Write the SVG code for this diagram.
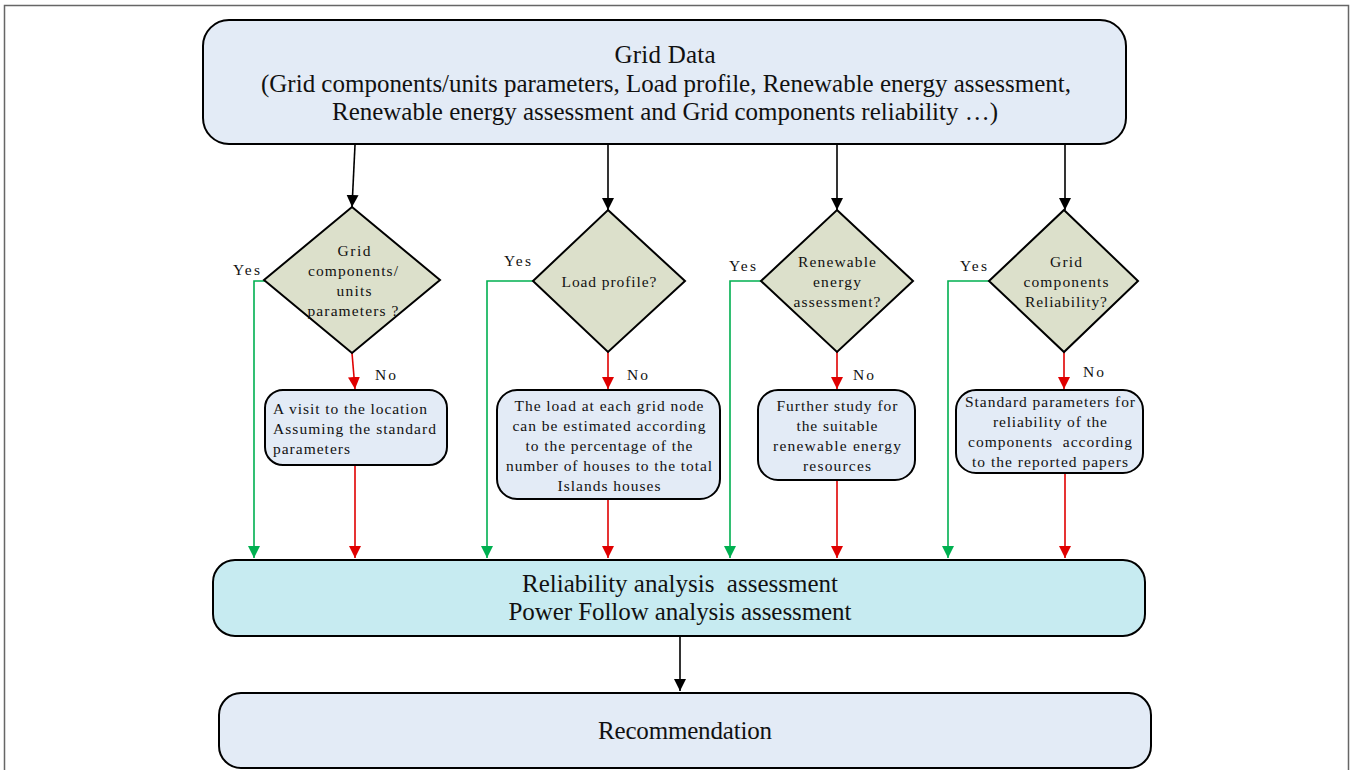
<svg xmlns="http://www.w3.org/2000/svg" width="1352" height="770" viewBox="0 0 1352 770">
<style>
.big{font-family:"Liberation Serif","Times New Roman",serif;font-size:25px;fill:#111;text-anchor:middle;white-space:pre}
.sm{font-family:"Liberation Serif","Times New Roman",serif;font-size:15.5px;fill:#111;text-anchor:middle;white-space:pre}
.lbl{font-family:"Liberation Serif","Times New Roman",serif;font-size:15.5px;fill:#111}
.box{fill:#E3EBF6;stroke:#000;stroke-width:2}
.cyan{fill:#C7EBF1;stroke:#000;stroke-width:2}
.dia{fill:#DCE0CB;stroke:#000;stroke-width:2}
.k{stroke:#000;stroke-width:1.6;fill:none}
.g{stroke:#00B050;stroke-width:1.6;fill:none}
.r{stroke:#E00000;stroke-width:1.6;fill:none}
</style>
<defs>
<marker id="ak" markerUnits="userSpaceOnUse" markerWidth="12" markerHeight="16" refX="12" refY="6" orient="auto" viewBox="0 0 12 12"><path d="M0,0 L12,6 L0,12 z" fill="#000"/></marker>
<marker id="ag" markerUnits="userSpaceOnUse" markerWidth="12" markerHeight="16" refX="12" refY="6" orient="auto" viewBox="0 0 12 12"><path d="M0,0 L12,6 L0,12 z" fill="#00B050"/></marker>
<marker id="ar" markerUnits="userSpaceOnUse" markerWidth="12" markerHeight="16" refX="12" refY="6" orient="auto" viewBox="0 0 12 12"><path d="M0,0 L12,6 L0,12 z" fill="#E00000"/></marker>
</defs>
<rect width="1352" height="770" fill="#fff"/>
<path d="M4.5,770 V5.5 H1348.5 V770" fill="none" stroke="#666" stroke-width="1.5"/>

<g id="connectors">
<path class="k" d="M355,145 L352,207" marker-end="url(#ak)"/>
<path class="k" d="M608,145 L608,210" marker-end="url(#ak)"/>
<path class="k" d="M837,145 L837,210" marker-end="url(#ak)"/>
<path class="k" d="M1065,145 L1065,210" marker-end="url(#ak)"/>
<path class="g" d="M277,281 H254 V558" marker-end="url(#ag)"/>
<path class="g" d="M533,281 H487 V558" marker-end="url(#ag)"/>
<path class="g" d="M761,281 H730 V558" marker-end="url(#ag)"/>
<path class="g" d="M989,281 H948 V558" marker-end="url(#ag)"/>
<path class="r" d="M352,353 L355,389" marker-end="url(#ar)"/>
<path class="r" d="M608,352 L608,389" marker-end="url(#ar)"/>
<path class="r" d="M837,352 L837,389" marker-end="url(#ar)"/>
<path class="r" d="M1064,352 L1064,389" marker-end="url(#ar)"/>
<path class="r" d="M355,465 V558" marker-end="url(#ar)"/>
<path class="r" d="M608,499 V558" marker-end="url(#ar)"/>
<path class="r" d="M837,480 V558" marker-end="url(#ar)"/>
<path class="r" d="M1065,473 V558" marker-end="url(#ar)"/>
<path class="k" d="M680,636 V691" marker-end="url(#ak)"/>
<text class="lbl" x="233" y="275" textLength="27">Yes</text>
<text class="lbl" x="504" y="266" textLength="27">Yes</text>
<text class="lbl" x="729" y="271" textLength="27">Yes</text>
<text class="lbl" x="960" y="271" textLength="27">Yes</text>
<text class="lbl" x="375" y="380" textLength="21">No</text>
<text class="lbl" x="627" y="380" textLength="21">No</text>
<text class="lbl" x="853" y="380" textLength="21">No</text>
<text class="lbl" x="1083" y="377" textLength="21">No</text>
</g>

<g id="grid-data">
<rect class="box" x="203" y="20" width="923" height="124" rx="26"/>
<text class="big" x="665" y="63" textLength="101">Grid Data</text>
<text class="big" x="666" y="92" textLength="810" lengthAdjust="spacingAndGlyphs">(Grid components/units parameters, Load profile, Renewable energy assessment,</text>
<text class="big" x="665" y="120" textLength="666" lengthAdjust="spacingAndGlyphs">Renewable energy assessment and Grid components reliability …)</text>
</g>

<g id="q-units">
<polygon class="dia" points="352,207 440,280 352,353 264,280"/>
<text class="sm" x="354" y="256" textLength="33">Grid</text>
<text class="sm" x="353" y="276" textLength="90">components/</text>
<text class="sm" x="354" y="296" textLength="35">units</text>
<text class="sm" x="353" y="316" textLength="91">parameters ?</text>
</g>
<g id="q-load">
<polygon class="dia" points="608,210 685,281 608,352 533,281"/>
<text class="sm" x="609" y="287" textLength="95">Load profile?</text>
</g>
<g id="q-renew">
<polygon class="dia" points="837,210 913,281 837,352 761,281"/>
<text class="sm" x="837" y="267" textLength="78">Renewable</text>
<text class="sm" x="837" y="287" textLength="48">energy</text>
<text class="sm" x="837" y="307" textLength="87">assessment?</text>
</g>
<g id="q-rel">
<polygon class="dia" points="1064,210 1138,281 1064,352 989,281"/>
<text class="sm" x="1066" y="267" textLength="32">Grid</text>
<text class="sm" x="1066" y="287" textLength="85">components</text>
<text class="sm" x="1066" y="307" textLength="82">Reliability?</text>
</g>

<g id="b-units">
<rect class="box" x="265" y="390" width="182" height="75" rx="18"/>
<text class="lbl" x="273" y="414" textLength="154">A visit to the location</text>
<text class="lbl" x="273" y="434" textLength="163">Assuming the standard</text>
<text class="lbl" x="273" y="454" textLength="77">parameters</text>
</g>
<g id="b-load">
<rect class="box" x="497" y="390" width="223" height="109" rx="20"/>
<text class="sm" x="609" y="411" textLength="189">The load at each grid node</text>
<text class="sm" x="609" y="431" textLength="193">can be estimated according</text>
<text class="sm" x="609" y="451" textLength="167">to the percentage of the</text>
<text class="sm" x="609" y="471" textLength="206">number of houses to the total</text>
<text class="sm" x="609" y="491" textLength="103">Islands houses</text>
</g>
<g id="b-renew">
<rect class="box" x="758" y="390" width="157" height="90" rx="20"/>
<text class="sm" x="837" y="411" textLength="121">Further study for</text>
<text class="sm" x="837" y="431" textLength="81">the suitable</text>
<text class="sm" x="837" y="451" textLength="128">renewable energy</text>
<text class="sm" x="837" y="471" textLength="68">resources</text>
</g>
<g id="b-rel">
<rect class="box" x="956" y="390" width="187" height="83" rx="20"/>
<text class="sm" x="1050" y="407" textLength="170">Standard parameters for</text>
<text class="sm" x="1050" y="427" textLength="114">reliability of the</text>
<text class="sm" x="1050" y="447" textLength="164">components  according</text>
<text class="sm" x="1050" y="467" textLength="156">to the reported papers</text>
</g>

<g id="analysis">
<rect class="cyan" x="213" y="560" width="932" height="76" rx="22"/>
<text class="big" x="680" y="592" textLength="316">Reliability analysis  assessment</text>
<text class="big" x="680" y="620" textLength="343">Power Follow analysis assessment</text>
</g>
<g id="recommendation">
<rect class="box" x="219" y="693" width="932" height="75" rx="22"/>
<text class="big" x="685" y="739" textLength="174">Recommendation</text>
</g>
</svg>
